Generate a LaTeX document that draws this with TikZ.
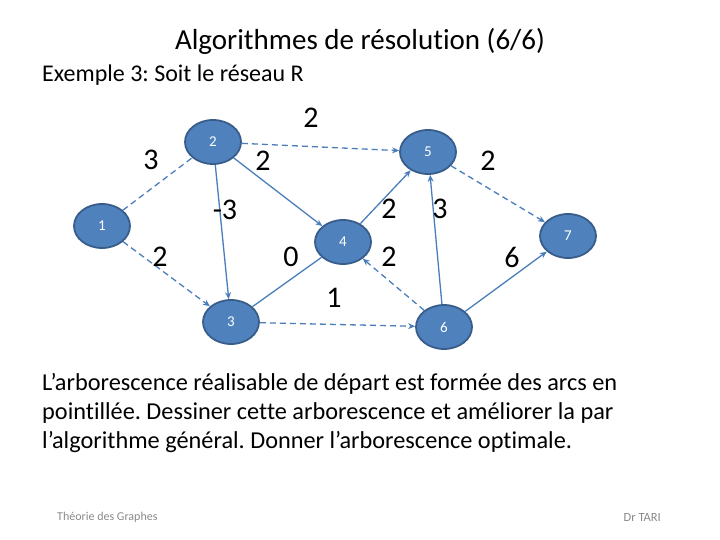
\documentclass[tikz,border=0pt]{standalone}
\usepackage{fontspec}
\setmainfont[Ligatures=NoCommon]{Carlito}
\frenchspacing
\usetikzlibrary{shapes.geometric,arrows.meta}
\definecolor{nodefill}{HTML}{4F81BD}
\definecolor{nodeline}{HTML}{385D8A}
\definecolor{edgecol}{HTML}{4A7EBB}
\definecolor{footgrey}{HTML}{898989}
\tikzset{
  vertex/.style={ellipse,draw=nodeline,fill=nodefill,line width=1.8pt,minimum width=56pt,minimum height=44pt,inner sep=0pt,text=white,font=\fontsize{15}{15}\selectfont},
  arc/.style={draw=edgecol,line width=1.3pt,-{Stealth[length=7pt,width=6pt]}},
  dasharc/.style={arc,dash pattern=on 6pt off 4pt},
  plaindash/.style={draw=edgecol,line width=1.3pt,dash pattern=on 6pt off 4pt},
  plainarc/.style={draw=edgecol,line width=1.3pt},
  wlabel/.style={font=\fontsize{30}{30}\selectfont,inner sep=0pt},
}
\begin{document}
\begin{tikzpicture}[x=1pt,y=-1pt]
\useasboundingbox (0,0) rectangle (720,540);
\node[font=\fontsize{29}{29}\selectfont] (title) at (360,41) {Algorithmes de résolution (6/6)};
\node[anchor=west,font=\fontsize{24}{24}\selectfont,inner sep=0pt] (ex) at (42,75) {Exemple 3: Soit le réseau R};

\node[vertex] (n1) at (102,226) {1};
\node[vertex] (n2) at (213,142) {2};
\node[vertex] (n3) at (231,322) {3};
\node[vertex] (n4) at (343,242) {4};
\node[vertex] (n5) at (428,152) {5};
\node[vertex] (n6) at (444,327) {6};
\node[vertex] (n7) at (568,236) {7};

\draw[plaindash] (n1) -- (n2);
\draw[dasharc] (n1) -- (n3);
\draw[arc] (n2) -- (n3);
\draw[arc] (n2) -- (n4);
\draw[dasharc] (n2) -- (n5);
\draw[plainarc] (n3) -- (n4);
\draw[arc] (n4) -- (n5);
\draw[dasharc] (n6) -- (n4);
\draw[dasharc] (n3) -- (n6);
\draw[arc] (n6) -- (n5);
\draw[dasharc] (n5) -- (n7);
\draw[arc] (n6) -- (n7);

\node[wlabel] (l12) at (151,160) {3};
\node[wlabel] (l13) at (160,257) {2};
\node[wlabel] (l23) at (225,210) {-3};
\node[wlabel] (l24) at (263,161) {2};
\node[wlabel] (l25) at (311,118) {2};
\node[wlabel] (l34) at (291,257) {0};
\node[wlabel] (l45) at (389,209) {2};
\node[wlabel] (l64) at (389,257) {2};
\node[wlabel] (l36) at (334,298) {1};
\node[wlabel] (l65) at (440,209) {3};
\node[wlabel] (l57) at (488,161) {2};
\node[wlabel] (l67) at (512,257) {6};

\node[anchor=north west,align=left,font=\fontsize{24.3}{29}\selectfont,inner sep=0pt] (para) at (42,373) {L’arborescence réalisable de départ est formée des arcs en\\pointillée. Dessiner cette arborescence et améliorer la par\\l’algorithme général. Donner l’arborescence optimale.};

\node[anchor=west,text=footgrey,font=\fontsize{12}{12}\selectfont,inner sep=0pt] (f1) at (57,517) {Théorie des Graphes};
\node[anchor=east,text=footgrey,font=\fontsize{12.5}{12.5}\selectfont,inner sep=0pt] (f2) at (661,517) {Dr TARI};
\end{tikzpicture}
\end{document}
